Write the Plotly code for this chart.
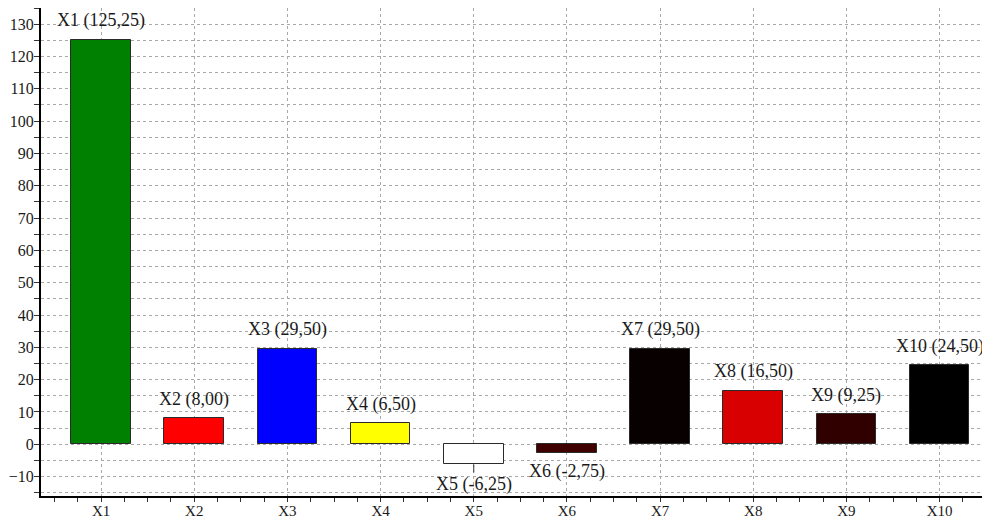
import plotly.graph_objects as go

categories = ["X1", "X2", "X3", "X4", "X5", "X6", "X7", "X8", "X9", "X10"]
values = [125.25, 8.00, 29.50, 6.50, -6.25, -2.75, 29.50, 16.50, 9.25, 24.50]
colors = ["#008000", "#FF0000", "#0000FF", "#FFFF00", "#FFFFFF",
          "#400000", "#080000", "#D80000", "#300000", "#000000"]
leader_labels = {"X5"}

xs = list(range(len(categories)))

fig = go.Figure()
fig.add_trace(go.Bar(
    x=xs, y=values, width=0.64,
    marker=dict(color=colors, line=dict(color="#2a2a2a", width=1)),
    hoverinfo="skip",
))

font_family = "Liberation Serif, Times New Roman, serif"
annotations = []
for i, (c, v) in enumerate(zip(categories, values)):
    txt = f"{c} ({v:.2f})".replace(".", ",")
    if c in leader_labels:
        annotations.append(dict(
            x=i, y=v, xref="x", yref="y", text=txt, showarrow=True,
            arrowhead=0, arrowwidth=1, arrowcolor="#333333",
            ax=0, ay=20 if v < 0 else -20, standoff=0,
            font=dict(family=font_family, size=18, color="#1a1a1a"),
        ))
    else:
        annotations.append(dict(
            x=i, y=v, xref="x", yref="y", text=txt, showarrow=False,
            yshift=19 if v >= 0 else -18,
            font=dict(family=font_family, size=18, color="#1a1a1a"),
        ))

grid_color = "#a8a8a8"
fig.update_layout(
    width=982, height=512,
    margin=dict(l=33, r=1, t=0, b=24, autoexpand=False),
    paper_bgcolor="white", plot_bgcolor="white",
    showlegend=False,
    bargap=0,
    annotations=annotations,
    font=dict(family=font_family, color="#1a1a1a"),
    xaxis=dict(
        range=[-0.645, 9.53],
        tickmode="array", tickvals=xs, ticktext=categories,
        tickfont=dict(family=font_family, size=15, color="#1a1a1a"),
        showgrid=True, gridcolor=grid_color, griddash="3px,3px", gridwidth=1,
        showline=True, linecolor="black", linewidth=2,
        ticks="outside", ticklen=4, tickcolor="#333333",
        ticklabelstandoff=-4,
        minor=dict(dtick=0.25, tick0=0, ticks="outside", ticklen=4,
                   tickcolor="#333333", showgrid=False),
        zeroline=False, fixedrange=True, automargin=False,
    ),
    yaxis=dict(
        range=[-16, 135],
        tickmode="linear", dtick=10, tick0=0,
        tickfont=dict(family=font_family, size=16, color="#1a1a1a"),
        showgrid=True, gridcolor=grid_color, griddash="3px,3px", gridwidth=1,
        showline=True, linecolor="black", linewidth=2,
        ticks="outside", ticklen=5, tickcolor="#333333",
        ticklabelstandoff=-3,
        minor=dict(dtick=5, tick0=0, ticks="outside", ticklen=5,
                   tickcolor="#333333", showgrid=True, gridcolor=grid_color,
                   griddash="3px,3px", gridwidth=1),
        zeroline=False, fixedrange=True, automargin=False,
    ),
)

fig.write_html("out.html")
